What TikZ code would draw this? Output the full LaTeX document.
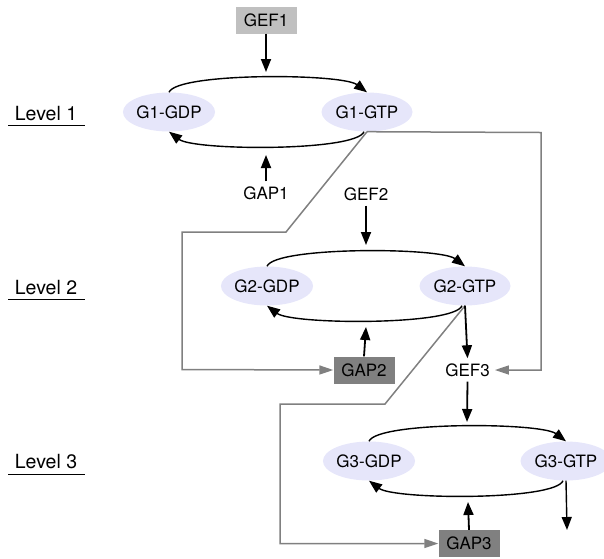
\documentclass[tikz,border=0pt]{standalone}
\usepackage{fontspec}
\setmainfont{TeX Gyre Heros}
\usetikzlibrary{arrows.meta,shapes.geometric}
\definecolor{lav}{RGB}{230,230,250}
\definecolor{lightbox}{RGB}{192,192,192}
\definecolor{darkbox}{RGB}{128,128,128}
\definecolor{wire}{RGB}{128,128,128}
\tikzset{
  ell/.style={ellipse, fill=lav, minimum width=91pt, minimum height=39pt, inner sep=0pt, font=\fontsize{17}{20}\selectfont},
  gbox/.style={rectangle, minimum width=61pt, minimum height=27pt, inner sep=0pt, font=\fontsize{17}{20}\selectfont},
  lbl/.style={inner sep=5pt, font=\fontsize{17}{20}\selectfont},
  lvl/.style={inner sep=0pt, anchor=base, font=\fontsize{19.5}{22}\selectfont},
  blk/.style={draw=black, line width=1.8pt, -{Triangle[length=13pt,width=10pt]}},
  arcline/.style={draw=black, line width=1.4pt, -{Triangle[length=13pt,width=10pt]}},
  gline/.style={draw=wire, line width=1.5pt, -{Triangle[length=14pt,width=9pt]}},
}
\begin{document}
\begin{tikzpicture}[x=1pt,y=-1pt]
\useasboundingbox (0,0) rectangle (604,558);
\begin{scope}
\clip (0,0) rectangle (604,558);
% Level labels
\node[lvl] (lv1) at (46,120) {Level 1};
\node[lvl] (lv2) at (46,294) {Level 2};
\node[lvl] (lv3) at (46,468) {Level 3};
\draw[line width=1.8pt] (8,125.5) -- (85,125.5);
\draw[line width=1.8pt] (8,299.5) -- (85,299.5);
\draw[line width=1.8pt] (8,474.5) -- (85,474.5);

% Level 1
\node[gbox, fill=lightbox] (gef1) at (266,20) {GEF1};
\node[ell] (g1d) at (169,112) {G1-GDP};
\node[ell] (g1t) at (367,112) {G1-GTP};
\node[lbl] (gap1) at (266,193) {GAP1};
\coordinate (a1) at (266,72);
\coordinate (b1) at (266,155);

% Level 2
\node[lbl] (gef2) at (366,194) {GEF2};
\node[ell] (g2d) at (267,286) {G2-GDP};
\node[ell] (g2t) at (465,286) {G2-GTP};
\node[gbox, fill=darkbox] (gap2) at (364,370) {GAP2};
\coordinate (a2) at (366,245);
\coordinate (b2) at (366,327);

% Level 3
\node[lbl] (gef3) at (467.5,370) {GEF3};
\node[ell] (g3d) at (369,461) {G3-GDP};
\node[ell] (g3t) at (566,461) {G3-GTP};
\node[gbox, fill=darkbox] (gap3) at (469,543.5) {GAP3};
\coordinate (a3) at (467,422);
\coordinate (b3) at (468,502);
\coordinate (out3) at (567,530);

% gray wires
\draw[gline] (g1t.south) -- (286,232) -- (182,232) -- (182,369.5) -- (gap2.west);
\draw[gline] (g1t.south) -- (541,132.5) -- (541,370) -- (gef3.east);
\draw[gline] (g2t.south) -- (385,404) -- (280,404) -- (280,543.5) -- (gap3.west);

% black arrows level 1
\draw[blk] (gef1.south) -- (a1);
\draw[blk] (gap1.north) -- (b1);
\draw[arcline] (g1d.north) .. controls +(8,-20) and +(-25,-19) .. (g1t.north);
\draw[arcline] ([xshift=-3pt]g1t.south) .. controls +(-8,20) and +(25,19) .. (g1d.south);

% level 2
\draw[blk] (gef2.south) -- (a2);
\draw[blk] (gap2.north) -- (b2);
\draw[arcline] (g2d.north) .. controls +(8,-20) and +(-25,-19) .. (g2t.north);
\draw[arcline] ([xshift=-3pt]g2t.south) .. controls +(-8,20) and +(25,19) .. (g2d.south);
\draw[blk] (g2t.south) -- (gef3.north);

% level 3
\draw[blk] (gef3.south) -- (a3);
\draw[blk] (gap3.north) -- (b3);
\draw[arcline] (g3d.north) .. controls +(8,-20) and +(-25,-19) .. (g3t.north);
\draw[arcline] ([xshift=-3pt]g3t.south) .. controls +(-8,20) and +(25,19) .. (g3d.south);
\draw[line width=1.4pt, -{Triangle[length=13pt,width=10pt]}] (g3t.south) -- (out3);
\end{scope}
\end{tikzpicture}
\end{document}
